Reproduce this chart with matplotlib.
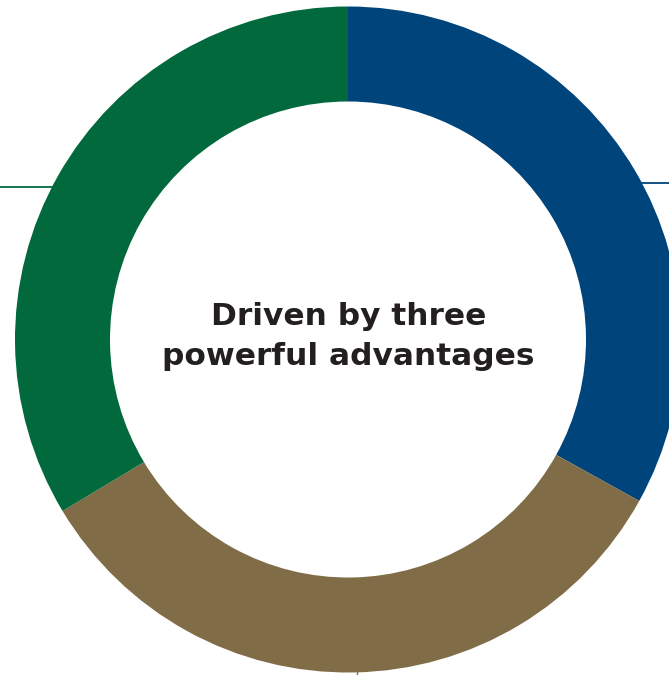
import matplotlib
matplotlib.use("Agg")
import matplotlib.pyplot as plt

segments = ["Advantage 1", "Advantage 2", "Advantage 3"]
values = [119, 120, 121]
colors = ["#00447c", "#806c46", "#02693d"]
title_lines = ["Driven by three", "powerful advantages"]

W, H = 669, 675
fig = plt.figure(figsize=(W / 100, H / 100), dpi=100)
ax = fig.add_axes([0, 0, 1, 1])

cx, cy = 348, H - 339.5
R = 333

# decorative thin lines behind the ring
ax.plot([0, 120], [H - 187, H - 187], color="#02693d", lw=1.3, zorder=1)
ax.plot([560, W], [H - 183, H - 183], color="#00447c", lw=1.3, zorder=1)
ax.plot([357, 357], [0, 6], color="#806c46", lw=1, zorder=1)

ax.pie(values, colors=colors, startangle=90, counterclock=False,
       center=(cx, cy), radius=R, frame=True,
       wedgeprops=dict(width=95, edgecolor="none", linewidth=0, zorder=2))
ax.set_xlim(0, W)
ax.set_ylim(0, H)
ax.set_aspect("equal")
ax.axis("off")

ax.text(cx + 0.5, H - 325, title_lines[0], ha="center", va="baseline",
        fontsize=22.5, fontweight="bold", family="DejaVu Sans", color="#231f20")
ax.text(cx + 0.5, H - 365, title_lines[1], ha="center", va="baseline",
        fontsize=22.5, fontweight="bold", family="DejaVu Sans", color="#231f20")

fig.savefig("out.png", dpi=100)
